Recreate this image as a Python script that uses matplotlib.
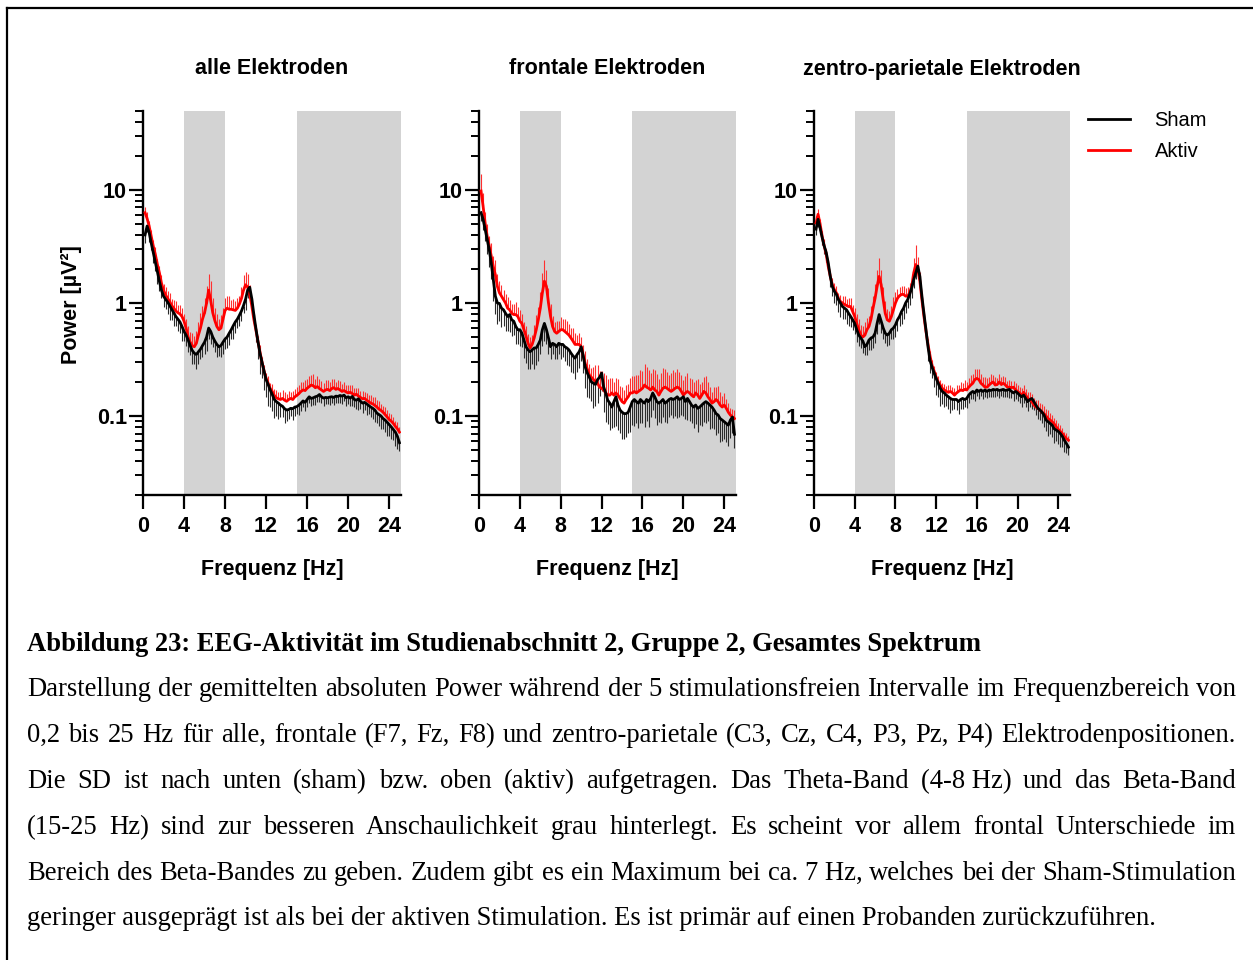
import numpy as np
import matplotlib
matplotlib.use('Agg')
import matplotlib.pyplot as plt
from matplotlib.lines import Line2D
from matplotlib.ticker import FixedLocator, FixedFormatter, NullFormatter

# ---------------- data ----------------
freq = np.round(np.arange(1, 126) * 0.2, 1)   # 0.2 ... 25.0 Hz

panel_titles = ["alle Elektroden", "frontale Elektroden", "zentro-parietale Elektroden"]
series_labels = ["Sham", "Aktiv"]
x_ticks = [0, 4, 8, 12, 16, 20, 24]
y_ticks = [0.1, 1, 10]
y_ticklabels = ["0.1", "1", "10"]
theta_band = (4, 8)
beta_band = (15, 25)

alle_sham = [
    4.0, 4.8, 4.2, 3.4, 2.8, 2.3, 1.9, 1.55, 1.3, 1.15,
    1.08, 1.02, 0.95, 0.88, 0.82, 0.76, 0.72, 0.68, 0.62, 0.56,
    0.52, 0.47, 0.42, 0.38, 0.36, 0.35, 0.37, 0.39, 0.42, 0.45,
    0.5, 0.6, 0.56, 0.5, 0.46, 0.43, 0.41, 0.42, 0.45, 0.48,
    0.5, 0.54, 0.58, 0.63, 0.68, 0.72, 0.78, 0.85, 0.95, 1.08,
    1.3, 1.38, 1.1, 0.8, 0.6, 0.46, 0.36, 0.3, 0.25, 0.21,
    0.19, 0.17, 0.155, 0.14, 0.134, 0.13, 0.125, 0.122, 0.116, 0.113,
    0.114, 0.117, 0.116, 0.12, 0.121, 0.125, 0.13, 0.136, 0.132, 0.14,
    0.148, 0.143, 0.145, 0.148, 0.15, 0.155, 0.148, 0.144, 0.146, 0.145,
    0.147, 0.148, 0.146, 0.15, 0.149, 0.152, 0.15, 0.153, 0.145, 0.148,
    0.144, 0.149, 0.14, 0.138, 0.142, 0.135, 0.13, 0.132, 0.128, 0.124,
    0.12, 0.117, 0.113, 0.106, 0.103, 0.1, 0.095, 0.092, 0.088, 0.084,
    0.08, 0.076, 0.072, 0.066, 0.058]
alle_aktiv = [
    6.3, 5.6, 4.8, 3.9, 3.2, 2.7, 2.2, 1.85, 1.5, 1.3,
    1.18, 1.1, 1.03, 0.95, 0.9, 0.85, 0.82, 0.8, 0.76, 0.69,
    0.6, 0.5, 0.45, 0.42, 0.41, 0.44, 0.52, 0.6, 0.72, 0.82,
    1.0, 1.3, 1.05, 0.82, 0.7, 0.62, 0.58, 0.6, 0.72, 0.86,
    0.9, 0.88, 0.88, 0.87, 0.86, 0.9, 0.98, 1.1, 1.3, 1.45,
    1.38, 1.2, 0.95, 0.72, 0.58, 0.46, 0.37, 0.3, 0.25, 0.215,
    0.195, 0.175, 0.165, 0.152, 0.145, 0.142, 0.14, 0.143, 0.138, 0.135,
    0.14, 0.143, 0.14, 0.148, 0.152, 0.158, 0.165, 0.17, 0.168, 0.176,
    0.182, 0.188, 0.185, 0.178, 0.182, 0.175, 0.17, 0.165, 0.17, 0.172,
    0.168, 0.175, 0.178, 0.172, 0.175, 0.17, 0.165, 0.168, 0.163, 0.16,
    0.162, 0.158, 0.153, 0.156, 0.15, 0.146, 0.142, 0.143, 0.138, 0.134,
    0.13, 0.128, 0.124, 0.12, 0.115, 0.112, 0.108, 0.103, 0.098, 0.093,
    0.09, 0.086, 0.081, 0.077, 0.072]
# SD relative to the mean (sham: drawn downward, aktiv: drawn upward)
alle_sham_sd = [
    0.15, 0.12, 0.18, 0.14, 0.2, 0.16, 0.22, 0.18, 0.15, 0.2,
    0.18, 0.22, 0.25, 0.2, 0.24, 0.18, 0.22, 0.2, 0.25, 0.18,
    0.2, 0.22, 0.18, 0.24, 0.2, 0.25, 0.22, 0.18, 0.2, 0.22,
    0.25, 0.2, 0.22, 0.18, 0.2, 0.22, 0.18, 0.2, 0.22, 0.18,
    0.2, 0.22, 0.18, 0.24, 0.2, 0.16, 0.2, 0.18, 0.15, 0.2,
    0.15, 0.12, 0.18, 0.2, 0.25, 0.3, 0.35, 0.28, 0.32, 0.3,
    0.35, 0.3, 0.28, 0.32, 0.25, 0.28, 0.22, 0.2, 0.25, 0.2,
    0.18, 0.15, 0.2, 0.16, 0.14, 0.18, 0.15, 0.12, 0.16, 0.14,
    0.12, 0.15, 0.13, 0.16, 0.12, 0.14, 0.12, 0.15, 0.13, 0.12,
    0.14, 0.12, 0.15, 0.13, 0.12, 0.14, 0.15, 0.12, 0.16, 0.13,
    0.15, 0.18, 0.14, 0.16, 0.2, 0.15, 0.18, 0.14, 0.2, 0.16,
    0.18, 0.2, 0.22, 0.18, 0.2, 0.24, 0.2, 0.22, 0.25, 0.2,
    0.22, 0.2, 0.25, 0.22, 0.15]
alle_aktiv_sd = [
    0.12, 0.15, 0.1, 0.14, 0.12, 0.16, 0.12, 0.15, 0.18, 0.14,
    0.18, 0.15, 0.2, 0.14, 0.18, 0.22, 0.16, 0.2, 0.18, 0.15,
    0.2, 0.25, 0.22, 0.3, 0.25, 0.28, 0.3, 0.35, 0.3, 0.35,
    0.4, 0.4, 0.5, 0.35, 0.3, 0.28, 0.25, 0.3, 0.25, 0.3,
    0.28, 0.3, 0.22, 0.25, 0.2, 0.22, 0.18, 0.25, 0.35, 0.3,
    0.3, 0.2, 0.15, 0.12, 0.1, 0.12, 0.15, 0.12, 0.14, 0.12,
    0.15, 0.12, 0.16, 0.14, 0.18, 0.15, 0.16, 0.2, 0.18, 0.15,
    0.18, 0.15, 0.2, 0.16, 0.18, 0.2, 0.22, 0.18, 0.25, 0.2,
    0.25, 0.22, 0.28, 0.2, 0.25, 0.22, 0.2, 0.18, 0.22, 0.2,
    0.18, 0.22, 0.2, 0.16, 0.18, 0.2, 0.16, 0.18, 0.15, 0.17,
    0.15, 0.18, 0.16, 0.14, 0.17, 0.15, 0.18, 0.14, 0.16, 0.15,
    0.17, 0.15, 0.2, 0.16, 0.18, 0.15, 0.14, 0.16, 0.15, 0.14,
    0.15, 0.13, 0.12, 0.14, 0.1]

front_sham = [
    6.3, 5.5, 4.5, 3.65, 2.97, 2.26, 1.61, 1.15, 1.0, 0.99,
    0.9, 0.87, 0.81, 0.76, 0.79, 0.71, 0.69, 0.62, 0.58, 0.58,
    0.54, 0.47, 0.41, 0.385, 0.37, 0.385, 0.4, 0.4, 0.43, 0.47,
    0.58, 0.66, 0.58, 0.49, 0.41, 0.44, 0.43, 0.41, 0.44, 0.43,
    0.43, 0.41, 0.4, 0.385, 0.36, 0.34, 0.325, 0.35, 0.37, 0.41,
    0.34, 0.27, 0.24, 0.22, 0.2, 0.195, 0.19, 0.21, 0.22, 0.24,
    0.18, 0.16, 0.138, 0.13, 0.12, 0.134, 0.148, 0.125, 0.113, 0.108,
    0.105, 0.105, 0.108, 0.12, 0.134, 0.14, 0.134, 0.13, 0.14, 0.134,
    0.13, 0.14, 0.134, 0.143, 0.16, 0.148, 0.134, 0.13, 0.134, 0.14,
    0.13, 0.134, 0.14, 0.143, 0.14, 0.143, 0.148, 0.14, 0.143, 0.148,
    0.134, 0.143, 0.134, 0.125, 0.12, 0.125, 0.117, 0.12, 0.125, 0.13,
    0.134, 0.13, 0.125, 0.12, 0.113, 0.105, 0.102, 0.095, 0.092, 0.089,
    0.086, 0.083, 0.092, 0.098, 0.069]
front_aktiv = [
    9.8, 7.2, 5.1, 3.9, 3.2, 2.6, 2.1, 1.78, 1.4, 1.23,
    1.15, 1.07, 1.0, 0.9, 0.87, 0.81, 0.79, 0.79, 0.76, 0.69,
    0.66, 0.58, 0.51, 0.44, 0.4, 0.43, 0.49, 0.58, 0.71, 0.9,
    1.23, 1.56, 1.4, 1.0, 0.76, 0.62, 0.56, 0.54, 0.56, 0.58,
    0.58, 0.56, 0.54, 0.52, 0.49, 0.46, 0.43, 0.43, 0.43, 0.41,
    0.34, 0.29, 0.26, 0.23, 0.22, 0.21, 0.2, 0.195, 0.18, 0.176,
    0.17, 0.16, 0.153, 0.153, 0.16, 0.153, 0.16, 0.153, 0.143, 0.134,
    0.13, 0.14, 0.148, 0.16, 0.16, 0.165, 0.16, 0.165, 0.17, 0.176,
    0.188, 0.18, 0.176, 0.17, 0.18, 0.17, 0.165, 0.153, 0.165, 0.176,
    0.18, 0.176, 0.17, 0.165, 0.17, 0.176, 0.18, 0.176, 0.165, 0.153,
    0.16, 0.165, 0.16, 0.153, 0.148, 0.16, 0.153, 0.143, 0.153, 0.165,
    0.16, 0.148, 0.14, 0.13, 0.134, 0.14, 0.134, 0.125, 0.12, 0.125,
    0.117, 0.108, 0.102, 0.098, 0.095]
front_sham_sd = [
    0.15, 0.2, 0.22, 0.25, 0.3, 0.28, 0.35, 0.3, 0.35, 0.3,
    0.32, 0.28, 0.3, 0.25, 0.3, 0.28, 0.25, 0.3, 0.25, 0.28,
    0.25, 0.3, 0.28, 0.32, 0.3, 0.25, 0.35, 0.3, 0.28, 0.25,
    0.28, 0.3, 0.25, 0.28, 0.22, 0.2, 0.25, 0.22, 0.2, 0.25,
    0.22, 0.25, 0.3, 0.28, 0.32, 0.3, 0.35, 0.3, 0.28, 0.25,
    0.3, 0.35, 0.38, 0.35, 0.32, 0.4, 0.35, 0.38, 0.32, 0.3,
    0.4, 0.45, 0.38, 0.42, 0.35, 0.4, 0.45, 0.4, 0.38, 0.42,
    0.4, 0.38, 0.35, 0.4, 0.38, 0.42, 0.35, 0.4, 0.38, 0.35,
    0.38, 0.35, 0.4, 0.32, 0.3, 0.35, 0.38, 0.32, 0.35, 0.3,
    0.32, 0.35, 0.3, 0.28, 0.32, 0.3, 0.35, 0.3, 0.28, 0.32,
    0.3, 0.35, 0.32, 0.3, 0.35, 0.32, 0.38, 0.3, 0.35, 0.32,
    0.35, 0.3, 0.38, 0.35, 0.32, 0.35, 0.3, 0.38, 0.35, 0.3,
    0.32, 0.35, 0.3, 0.28, 0.25]
front_aktiv_sd = [
    0.4, 0.3, 0.25, 0.28, 0.22, 0.3, 0.25, 0.35, 0.3, 0.28,
    0.25, 0.22, 0.2, 0.25, 0.22, 0.2, 0.25, 0.3, 0.22, 0.25,
    0.2, 0.18, 0.22, 0.2, 0.25, 0.22, 0.3, 0.35, 0.3, 0.4,
    0.5, 0.55, 0.4, 0.35, 0.3, 0.25, 0.22, 0.28, 0.25, 0.3,
    0.25, 0.3, 0.28, 0.25, 0.22, 0.3, 0.25, 0.2, 0.25, 0.22,
    0.25, 0.3, 0.22, 0.25, 0.2, 0.28, 0.4, 0.45, 0.4, 0.42,
    0.4, 0.45, 0.38, 0.42, 0.35, 0.3, 0.35, 0.4, 0.3, 0.35,
    0.3, 0.35, 0.3, 0.35, 0.4, 0.38, 0.45, 0.4, 0.5, 0.42,
    0.55, 0.5, 0.45, 0.4, 0.45, 0.5, 0.42, 0.4, 0.45, 0.5,
    0.45, 0.4, 0.35, 0.45, 0.5, 0.4, 0.45, 0.38, 0.4, 0.35,
    0.4, 0.45, 0.35, 0.4, 0.35, 0.3, 0.38, 0.35, 0.3, 0.35,
    0.4, 0.35, 0.3, 0.25, 0.35, 0.3, 0.38, 0.3, 0.25, 0.28,
    0.22, 0.2, 0.15, 0.18, 0.2]

zp_sham = [
    4.5, 5.5, 4.6, 3.8, 3.2, 2.8, 2.26, 1.72, 1.4, 1.27,
    1.19, 1.07, 1.0, 0.93, 0.9, 0.87, 0.81, 0.76, 0.71, 0.66,
    0.58, 0.52, 0.49, 0.46, 0.41, 0.43, 0.47, 0.49, 0.5, 0.54,
    0.66, 0.79, 0.69, 0.6, 0.54, 0.52, 0.54, 0.58, 0.6, 0.64,
    0.71, 0.76, 0.84, 0.9, 1.0, 1.07, 1.19, 1.36, 1.61, 1.85,
    2.12, 1.72, 1.15, 0.81, 0.58, 0.41, 0.31, 0.27, 0.24, 0.215,
    0.195, 0.176, 0.165, 0.16, 0.153, 0.148, 0.143, 0.14, 0.14, 0.14,
    0.134, 0.14, 0.143, 0.14, 0.143, 0.153, 0.16, 0.165, 0.16, 0.17,
    0.165, 0.17, 0.165, 0.17, 0.165, 0.17, 0.168, 0.172, 0.17, 0.172,
    0.168, 0.17, 0.172, 0.168, 0.17, 0.172, 0.165, 0.16, 0.165, 0.16,
    0.153, 0.148, 0.153, 0.143, 0.134, 0.14, 0.143, 0.134, 0.125, 0.117,
    0.113, 0.108, 0.102, 0.092, 0.089, 0.086, 0.083, 0.077, 0.075, 0.073,
    0.07, 0.066, 0.061, 0.057, 0.053]
zp_aktiv = [
    5.1, 6.1, 5.0, 3.9, 3.2, 2.7, 2.1, 1.72, 1.45, 1.31,
    1.23, 1.1, 1.03, 1.0, 0.97, 0.95, 0.93, 0.93, 0.84, 0.76,
    0.66, 0.58, 0.52, 0.5, 0.52, 0.58, 0.62, 0.72, 0.9, 1.1,
    1.4, 1.72, 1.45, 1.07, 0.81, 0.71, 0.69, 0.76, 0.87, 1.0,
    1.1, 1.16, 1.19, 1.19, 1.15, 1.15, 1.23, 1.4, 1.85, 2.19,
    1.98, 1.56, 1.07, 0.76, 0.56, 0.43, 0.34, 0.28, 0.25, 0.22,
    0.2, 0.188, 0.176, 0.17, 0.165, 0.162, 0.165, 0.16, 0.153, 0.16,
    0.165, 0.17, 0.168, 0.172, 0.17, 0.18, 0.188, 0.195, 0.21, 0.215,
    0.21, 0.195, 0.188, 0.18, 0.18, 0.188, 0.195, 0.2, 0.188, 0.19,
    0.2, 0.19, 0.195, 0.188, 0.18, 0.18, 0.178, 0.18, 0.17, 0.165,
    0.16, 0.153, 0.162, 0.153, 0.143, 0.14, 0.134, 0.125, 0.12, 0.117,
    0.113, 0.108, 0.105, 0.1, 0.095, 0.092, 0.089, 0.085, 0.08, 0.076,
    0.073, 0.07, 0.066, 0.063, 0.061]
zp_sham_sd = [
    0.12, 0.15, 0.12, 0.14, 0.16, 0.18, 0.15, 0.2, 0.18, 0.22,
    0.2, 0.22, 0.25, 0.22, 0.2, 0.25, 0.22, 0.2, 0.18, 0.2,
    0.22, 0.2, 0.18, 0.22, 0.15, 0.2, 0.18, 0.22, 0.2, 0.18,
    0.2, 0.18, 0.22, 0.2, 0.18, 0.2, 0.22, 0.18, 0.2, 0.22,
    0.2, 0.18, 0.22, 0.2, 0.18, 0.15, 0.2, 0.18, 0.15, 0.12,
    0.12, 0.15, 0.2, 0.18, 0.22, 0.25, 0.22, 0.2, 0.25, 0.28,
    0.25, 0.3, 0.22, 0.25, 0.2, 0.22, 0.25, 0.2, 0.18, 0.2,
    0.22, 0.18, 0.2, 0.15, 0.18, 0.15, 0.12, 0.14, 0.15, 0.12,
    0.14, 0.12, 0.15, 0.13, 0.12, 0.14, 0.12, 0.15, 0.13, 0.12,
    0.14, 0.12, 0.15, 0.13, 0.14, 0.16, 0.13, 0.15, 0.14, 0.16,
    0.15, 0.18, 0.14, 0.16, 0.18, 0.15, 0.2, 0.16, 0.18, 0.2,
    0.18, 0.2, 0.22, 0.2, 0.25, 0.2, 0.22, 0.25, 0.2, 0.22,
    0.24, 0.2, 0.22, 0.18, 0.15]
zp_aktiv_sd = [
    0.15, 0.12, 0.1, 0.12, 0.15, 0.12, 0.14, 0.12, 0.15, 0.14,
    0.15, 0.12, 0.14, 0.16, 0.18, 0.15, 0.2, 0.18, 0.15, 0.18,
    0.2, 0.25, 0.22, 0.25, 0.3, 0.28, 0.25, 0.3, 0.28, 0.35,
    0.4, 0.45, 0.35, 0.3, 0.28, 0.25, 0.22, 0.25, 0.3, 0.25,
    0.22, 0.2, 0.18, 0.2, 0.18, 0.2, 0.22, 0.3, 0.35, 0.5,
    0.3, 0.2, 0.15, 0.12, 0.1, 0.12, 0.1, 0.12, 0.1, 0.12,
    0.12, 0.1, 0.12, 0.14, 0.12, 0.15, 0.13, 0.12, 0.15, 0.18,
    0.15, 0.18, 0.16, 0.2, 0.18, 0.2, 0.22, 0.2, 0.25, 0.22,
    0.25, 0.2, 0.18, 0.22, 0.2, 0.18, 0.2, 0.16, 0.18, 0.15,
    0.18, 0.16, 0.15, 0.18, 0.14, 0.16, 0.15, 0.14, 0.16, 0.15,
    0.14, 0.15, 0.16, 0.14, 0.15, 0.16, 0.18, 0.15, 0.16, 0.18,
    0.15, 0.18, 0.16, 0.15, 0.18, 0.16, 0.15, 0.14, 0.16, 0.15,
    0.14, 0.12, 0.1, 0.12, 0.1]

caption_title = "Abbildung 23: EEG-Aktivität im Studienabschnitt 2, Gruppe 2, Gesamtes Spektrum"
caption_lines = [
    "Darstellung der gemittelten absoluten Power während der 5 stimulationsfreien Intervalle im Frequenzbereich von",
    "0,2 bis 25 Hz für alle, frontale (F7, Fz, F8) und zentro-parietale (C3, Cz, C4, P3, Pz, P4) Elektrodenpositionen.",
    "Die SD ist nach unten (sham) bzw. oben (aktiv) aufgetragen. Das Theta-Band (4-8\u00a0Hz) und das Beta-Band",
    "(15-25 Hz) sind zur besseren Anschaulichkeit grau hinterlegt. Es scheint vor allem frontal Unterschiede im",
    "Bereich des Beta-Bandes zu geben. Zudem gibt es ein Maximum bei ca. 7\u00a0Hz, welches bei der Sham-Stimulation",
    "geringer ausgeprägt ist als bei der aktiven Stimulation. Es ist primär auf einen Probanden zurückzuführen.",
]

# ---------------- figure ----------------
W, H = 1253, 960
plt.rcParams['font.family'] = ['Liberation Sans', 'DejaVu Sans']
fig = plt.figure(figsize=(W / 100, H / 100), dpi=100)

def px_axes(x0, x1, y0, y1):
    return fig.add_axes([x0 / W, 1 - y1 / H, (x1 - x0) / W, (y1 - y0) / H])

panel_px = [(143, 401), (479, 736), (814, 1070)]
XMAX = 25.15
band_color = '#d3d3d3'
tick_fs = 15.5

panels = [
    (alle_sham, alle_sham_sd, alle_aktiv, alle_aktiv_sd),
    (front_sham, front_sham_sd, front_aktiv, front_aktiv_sd),
    (zp_sham, zp_sham_sd, zp_aktiv, zp_aktiv_sd),
]

minor_vals = [k * 10.0 ** e for e in range(-2, 2) for k in range(2, 10)]
minor_vals = [v for v in minor_vals if 0.02 <= v <= 50]

axes = []
for i, ((x0, x1), title, (sh, shsd, ak, aksd)) in enumerate(zip(panel_px, panel_titles, panels)):
    ax = px_axes(x0, x1, 111, 495)
    axes.append(ax)
    ax.axvspan(theta_band[0], theta_band[1], color=band_color, lw=0, zorder=0)
    ax.axvspan(beta_band[0], XMAX, color=band_color, lw=0, zorder=0)

    sh = np.array(sh); ak = np.array(ak)
    sh_err = sh * np.array(shsd)
    ak_err = ak * np.array(aksd)
    ax.errorbar(freq, sh, yerr=[sh_err, np.zeros_like(sh_err)], fmt='none',
                ecolor='#2a2a2a', elinewidth=0.8, capsize=0, zorder=2)
    ax.errorbar(freq, ak, yerr=[np.zeros_like(ak_err), ak_err], fmt='none',
                ecolor='#ff3030', elinewidth=0.8, capsize=0, zorder=2)
    l_ak, = ax.plot(freq, ak, color='#ff0000', lw=2.0, zorder=3, label=series_labels[1])
    l_sh, = ax.plot(freq, sh, color='black', lw=2.0, zorder=4, label=series_labels[0])

    ax.set_yscale('log')
    ax.set_ylim(0.02, 50)
    ax.set_xlim(0, XMAX)
    ax.yaxis.set_major_locator(FixedLocator(y_ticks))
    ax.yaxis.set_major_formatter(FixedFormatter(y_ticklabels))
    ax.yaxis.set_minor_locator(FixedLocator(minor_vals))
    ax.yaxis.set_minor_formatter(NullFormatter())
    ax.xaxis.set_major_locator(FixedLocator(x_ticks))
    ax.set_xticklabels([str(t) for t in x_ticks])

    for s in ['top', 'right']:
        ax.spines[s].set_visible(False)
    for s in ['left', 'bottom']:
        ax.spines[s].set_linewidth(1.7)
    ax.tick_params(axis='both', which='major', length=10, width=1.6, direction='out')
    ax.tick_params(axis='y', which='minor', length=6, width=1.4, direction='out')
    ax.tick_params(axis='x', which='major', pad=5)
    ax.tick_params(axis='y', which='major', pad=1.5)
    for lab in ax.get_xticklabels() + ax.get_yticklabels():
        lab.set_fontweight('bold')
        lab.set_fontsize(tick_fs)

    ax.text(0.5, (495 - 69) / 384, title, transform=ax.transAxes, ha='center', va='center',
            fontsize=15.5, fontweight='bold')
    ax.set_xlabel("Frequenz [Hz]", fontsize=15.5, fontweight='bold')
    ax.xaxis.set_label_coords(0.5, (495 - 569) / 384)
    ax.xaxis.label.set_va('center')
    if i == 0:
        ax.set_ylabel("Power [µV²]", fontsize=15.5, fontweight='bold')
        ax.yaxis.set_label_coords((72 - 143) / 258, (495 - 305) / 384)
        ax.yaxis.label.set_va('center')
    if i == 2:
        ax.legend(handles=[l_sh, l_ak], loc='upper left', frameon=False,
                  bbox_to_anchor=(1088 / W, 1 - 111 / H), bbox_transform=fig.transFigure,
                  borderaxespad=0, borderpad=0, fontsize=14.5, handlelength=2.1,
                  handletextpad=1.2, labelspacing=0.62)

# frame lines (top and left)
fig.add_artist(Line2D([7 / W, 7 / W], [0, 1 - 8 / H], transform=fig.transFigure,
                      color='black', lw=1.6))
fig.add_artist(Line2D([7 / W, 1], [1 - 8 / H, 1 - 8 / H], transform=fig.transFigure,
                      color='black', lw=1.6))

# ---------------- caption ----------------
serif = ['Liberation Serif', 'DejaVu Serif']
renderer = fig.canvas.get_renderer()

def text_width(s, size, weight='normal'):
    t = fig.text(0, 0, s, fontsize=size, family=serif, weight=weight)
    w = t.get_window_extent(renderer).width
    t.remove()
    return w

fs_body = 10 * 1130 / text_width(caption_lines[-1], 10)
fs_title = 10 * 958 / text_width(caption_title, 10, 'bold')
left_px, right_px = 27, 1236

fig.text(left_px / W, 1 - 651 / H, caption_title, fontsize=fs_title, family=serif,
         weight='bold', va='baseline', ha='left')

baselines = [696, 742, 788, 834, 880, 925]
for j, (line, yb) in enumerate(zip(caption_lines, baselines)):
    yf = 1 - yb / H
    if j == len(caption_lines) - 1:
        fig.text(left_px / W, yf, line.replace('\u00a0', ' '), fontsize=fs_body,
                 family=serif, va='baseline', ha='left')
        continue
    words = [w.replace('\u00a0', ' ') for w in line.split(' ')]
    widths = [text_width(w, fs_body) for w in words]
    gap = (right_px - left_px - sum(widths)) / (len(words) - 1)
    x = left_px
    for w, wd in zip(words, widths):
        fig.text(x / W, yf, w, fontsize=fs_body, family=serif, va='baseline', ha='left')
        x += wd + gap

fig.savefig('out.png', dpi=100)
